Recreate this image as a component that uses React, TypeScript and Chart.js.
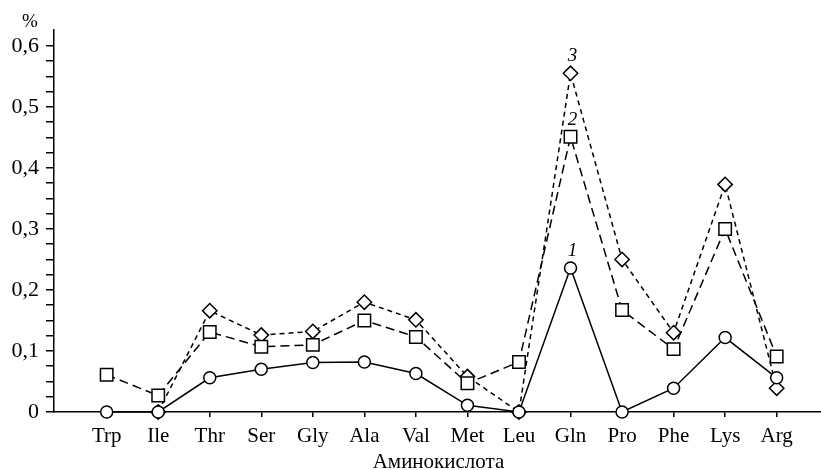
import { useEffect, useRef } from 'react';
import { Chart, registerables } from 'chart.js';

Chart.register(...registerables);

// Amino acid content, %
const aminoAcids = ['Trp', 'Ile', 'Thr', 'Ser', 'Gly', 'Ala', 'Val', 'Met', 'Leu', 'Gln', 'Pro', 'Phe', 'Lys', 'Arg'];
const series1 = [0, 0, 0.056, 0.07, 0.081, 0.082, 0.063, 0.011, 0, 0.236, 0, 0.039, 0.122, 0.056];
const series2 = [0.061, 0.027, 0.131, 0.107, 0.11, 0.15, 0.123, 0.047, 0.082, 0.451, 0.167, 0.103, 0.3, 0.091];
const series3 = [null, 0, 0.166, 0.126, 0.132, 0.18, 0.151, 0.058, 0, 0.555, 0.25, 0.13, 0.373, 0.039];
const seriesNames = ['1', '2', '3'];

// Y axis: labelled every 0.1, unlabelled marks every 0.025
const yMax = 0.626;
const yMajorStep = 0.1;
const yMinorStep = 0.025;
const yTopTick = 0.6;

const axisTitle = 'Аминокислота';
const unitLabel = '%';

const FONT = '"Liberation Serif", "Times New Roman", serif';

const toPoints = (vals: (number | null)[]) => vals.map((v, i) => ({ x: i, y: v }));

const formatY = (v: number) => {
  const k = v / yMajorStep;
  if (Math.abs(k - Math.round(k)) > 1e-6) return '';
  if (Math.abs(v) < 1e-9) return '0';
  return v.toFixed(1).replace('.', ',');
};

const textPlugin = {
  id: 'chartTexts',
  afterDraw(chart: any) {
    const { ctx, chartArea } = chart;
    ctx.save();
    ctx.fillStyle = '#000';
    ctx.textAlign = 'center';
    ctx.textBaseline = 'alphabetic';

    // x axis title
    ctx.font = `21px ${FONT}`;
    ctx.fillText(axisTitle, (chartArea.left + chartArea.right) / 2 + 1, 468);

    // unit above the y axis
    ctx.font = `19px ${FONT}`;
    ctx.fillText(unitLabel, 30, 27);

    // curve numbers above the Gln peak
    const peak = aminoAcids.indexOf('Gln');
    ctx.font = `italic 19px ${FONT}`;
    seriesNames.forEach((name, i) => {
      const el = chart.getDatasetMeta(i).data[peak];
      if (!el) return;
      ctx.fillText(name, el.x + 2, el.y - 12);
    });
    ctx.restore();
  },
};

export default function App() {
  const canvasRef = useRef<HTMLCanvasElement | null>(null);

  useEffect(() => {
    const canvas = canvasRef.current;
    if (!canvas) return;

    const common = {
      borderColor: '#000',
      borderWidth: 1.5,
      pointBackgroundColor: '#fff',
      pointBorderColor: '#000',
      pointBorderWidth: 1.5,
      tension: 0,
      fill: false,
      clip: false as const,
    };

    const chart = new Chart(canvas, {
      type: 'line',
      data: {
        datasets: [
          { ...common, label: seriesNames[0], data: toPoints(series1), pointStyle: 'circle', pointRadius: 6 },
          { ...common, label: seriesNames[1], data: toPoints(series2), pointStyle: 'rect', pointRadius: 8.8, borderDash: [9, 5] },
          { ...common, label: seriesNames[2], data: toPoints(series3), pointStyle: 'rectRot', pointRadius: 7.2, borderDash: [5, 4] },
        ],
      },
      options: {
        responsive: false,
        animation: false,
        events: [],
        layout: { autoPadding: false, padding: { top: 30, right: 0, left: 0, bottom: 0 } },
        plugins: { legend: { display: false }, tooltip: { enabled: false } },
        scales: {
          x: {
            type: 'linear',
            min: -1.022,
            max: 13.86,
            afterFit: (scale: any) => { scale.height = 58; },
            afterBuildTicks: (scale: any) => { scale.ticks = aminoAcids.map((_, i) => ({ value: i })); },
            ticks: {
              autoSkip: false,
              maxRotation: 0,
              padding: 7,
              color: '#000',
              font: { family: FONT, size: 21 },
              callback: (v: any) => aminoAcids[Math.round(Number(v))] ?? '',
            },
            grid: { display: true, drawOnChartArea: false, drawTicks: true, tickLength: 5, color: '#000', lineWidth: 1.5 },
            border: { display: true, color: '#000', width: 1.5 },
          },
          y: {
            type: 'linear',
            min: 0,
            max: yMax,
            afterFit: (scale: any) => { scale.width = 54; },
            afterBuildTicks: (scale: any) => {
              const n = Math.round(yTopTick / yMinorStep);
              scale.ticks = Array.from({ length: n + 1 }, (_, i) => ({ value: +(i * yMinorStep).toFixed(3) }));
            },
            ticks: {
              autoSkip: false,
              padding: 7,
              color: '#000',
              font: { family: FONT, size: 22 },
              callback: (v: any) => formatY(Number(v)),
            },
            grid: { display: true, drawOnChartArea: false, drawTicks: true, tickLength: 8, color: '#000', lineWidth: 1.5 },
            border: { display: true, color: '#000', width: 1.5 },
          },
        },
      },
      plugins: [textPlugin],
    });

    return () => chart.destroy();
  }, []);

  return (
    <div style={{ position: 'absolute', left: 0, top: 0, width: 821, height: 470, background: '#fff' }}>
      <canvas ref={canvasRef} width={821} height={470} style={{ display: 'block', width: 821, height: 470 }} />
    </div>
  );
}
